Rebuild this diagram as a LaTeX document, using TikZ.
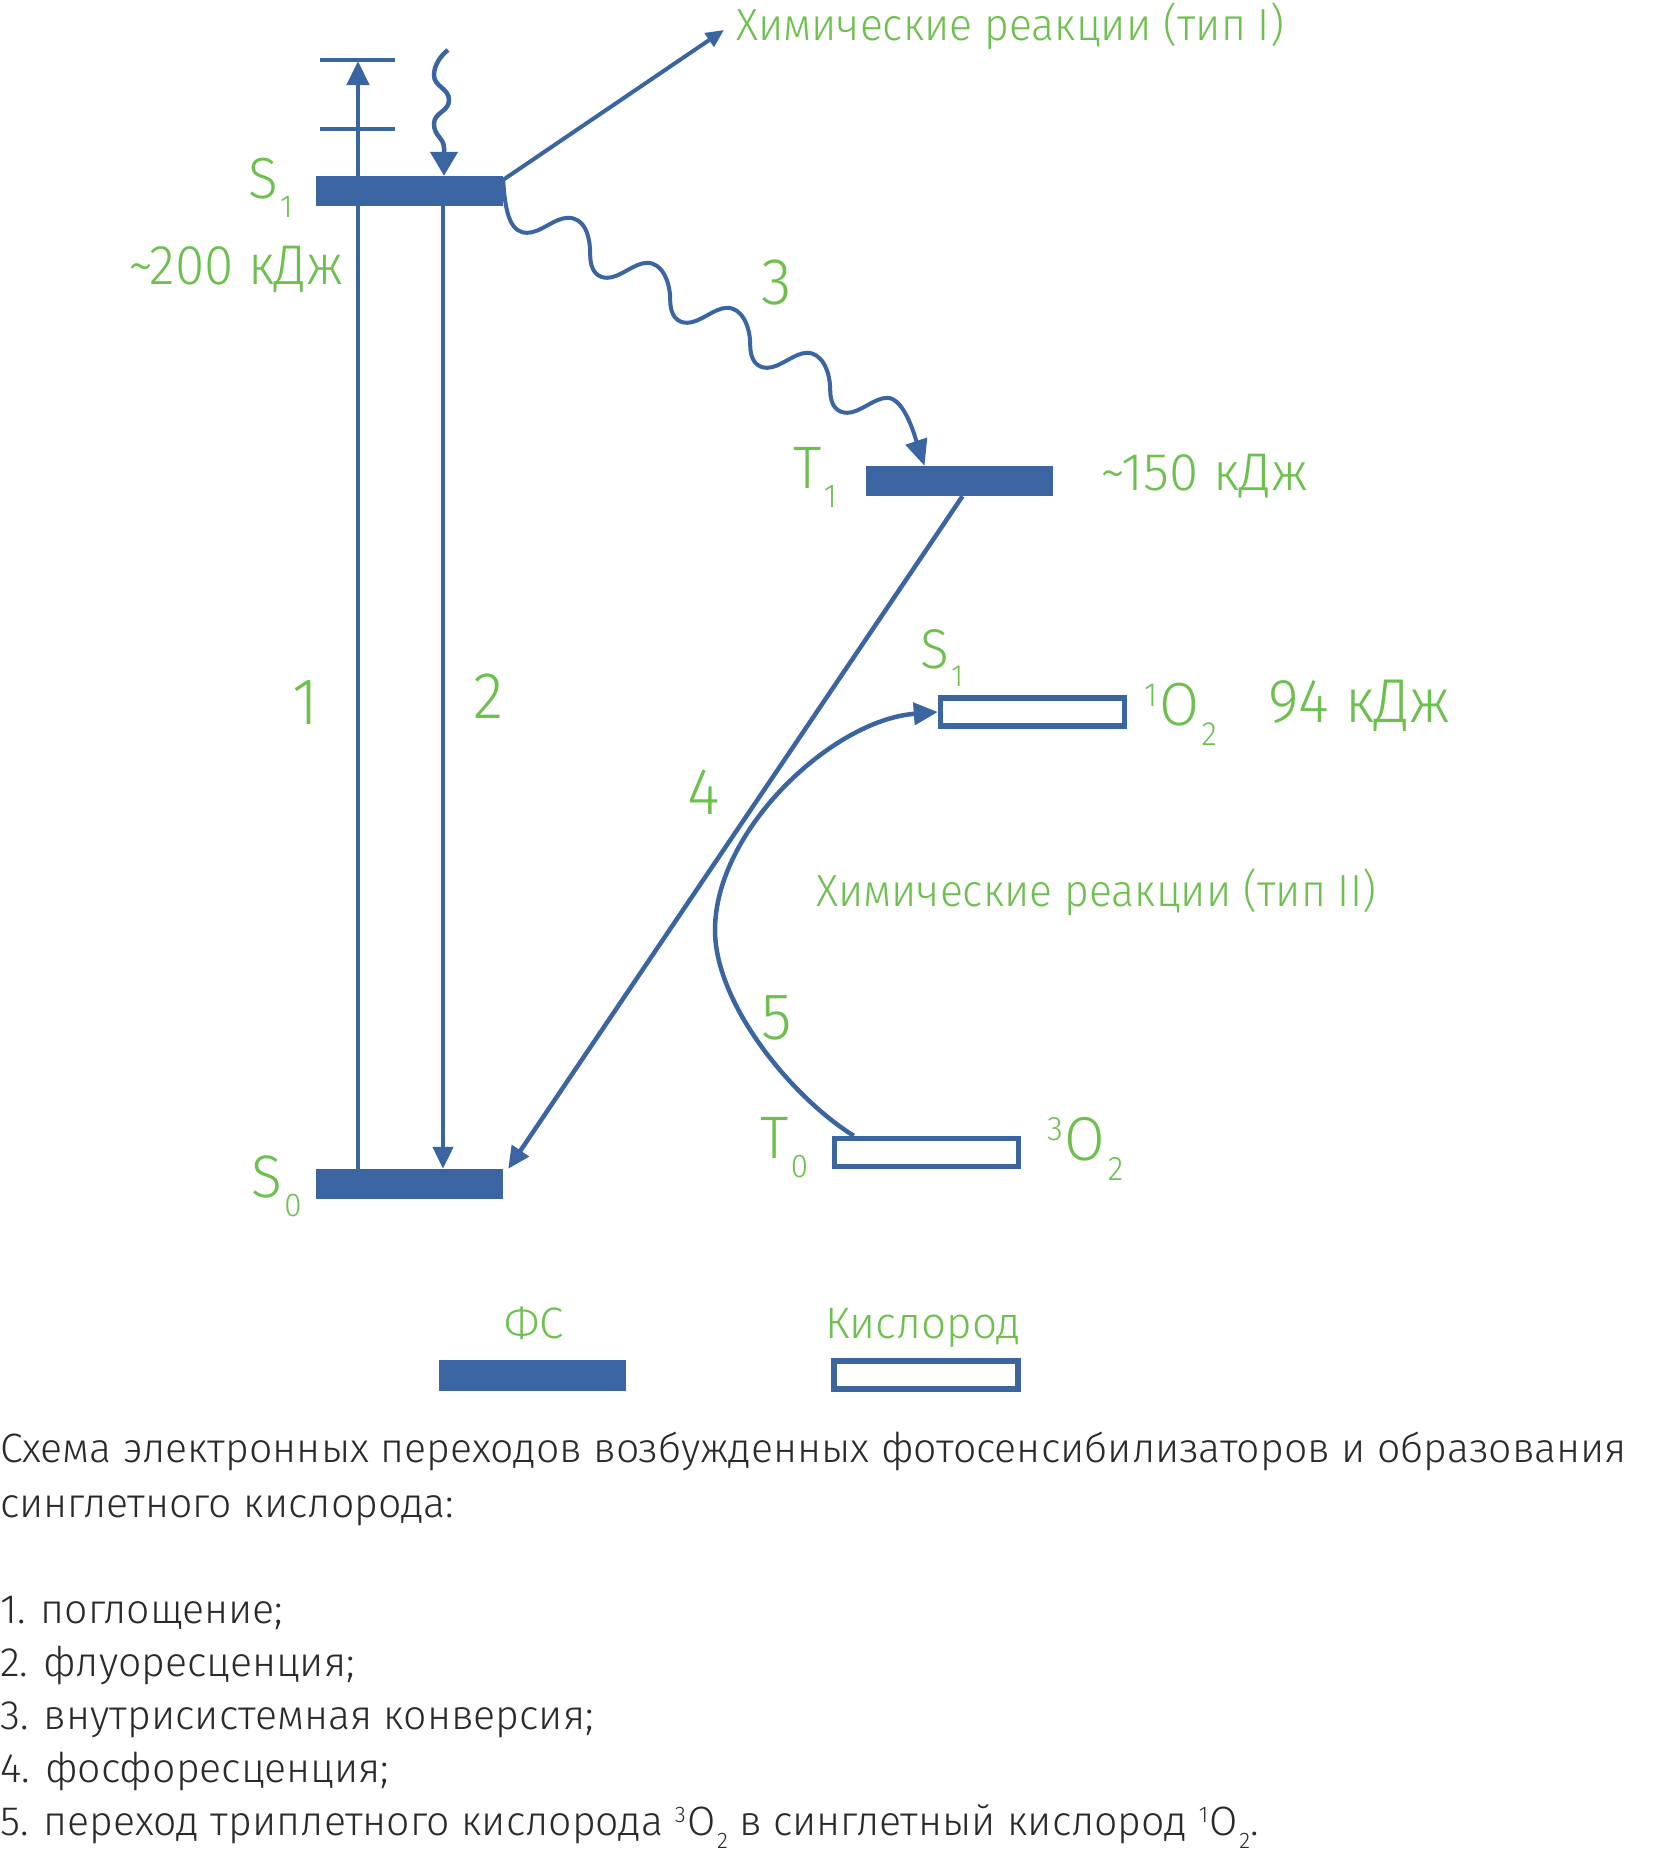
\documentclass[tikz,border=0pt]{standalone}
\usepackage{fontspec}
\setmainfont{Fira Sans Light}
\newfontfamily\lf{Fira Sans Light}[FakeStretch=0.95]
\usetikzlibrary{arrows.meta,decorations.pathmorphing}
\definecolor{fsblue}{HTML}{3A65A0}
\definecolor{lgreen}{HTML}{6DC04E}
\definecolor{captxt}{HTML}{2A2A2A}
\newcommand\fsz[1]{\fontsize{#1}{#1}\selectfont}
\newcommand\lsub[1]{\kern0.04em\raisebox{-0.33em}{\scalebox{0.55}{#1}}}
\newcommand\usup[1]{\raisebox{0.31em}{\scalebox{0.55}{#1}}\kern0.03em}
\begin{document}
\begin{tikzpicture}[x=1pt,y=-1pt,
  fsbar/.style={rectangle, fill=fsblue, minimum width=187pt, minimum height=30pt, inner sep=0pt},
  oxbox/.style={rectangle, draw=fsblue, line width=5.5pt, fill=white, minimum width=184pt, minimum height=28pt, inner sep=0pt},
  conn/.style={draw=fsblue, line width=4.5pt},
  wave/.style={draw=fsblue, line width=4.5pt},
  bigtip/.style={-{Triangle[length=24pt,width=22pt]}},
  midtip/.style={-{Triangle[length=22pt,width=20pt]}},
  lab/.style={text=lgreen, inner sep=0pt, anchor=base west},
  num/.style={text=lgreen, inner sep=0pt, anchor=base, font=\lf\fsz{66}},
  captext/.style={text=captxt, inner sep=0pt, anchor=base west, font=\fsz{41}},
]
\path[use as bounding box, fill=white] (0,0) rectangle (1680,1855);

% levels
\node[fsbar] (s1bar) at (409.5,191) {};
\node[fsbar] (s0bar) at (409.5,1184) {};
\node[fsbar] (t1bar) at (959.5,481) {};

% 1: absorption
\coordinate (top1) at (358,61);
\draw[conn] (320,60) -- (395,60);
\draw[conn] (320,129) -- (395,129);
\draw[conn, bigtip] (s0bar.north -| top1) -- (top1);

% 2: fluorescence
\coordinate (l2) at (443,0);
\draw[conn, midtip] (s1bar.south -| l2) -- (s0bar.north -| l2);

% incoming light
\coordinate (lightsrc) at (448,50);
\coordinate (lightarr) at (444,0);
\draw[wave, -{Triangle[length=24pt,width=27pt]}] (lightsrc)
  .. controls +(-8,6) and +(0,-9) .. (434,75)
  .. controls +(0,12) and +(0,-12) .. (449,100)
  .. controls +(0,12) and +(0,-12) .. (434,124)
  .. controls +(0,12) and +(0,-10) .. (444,148)
  -- (s1bar.north -| lightarr);

% type I
\coordinate (c1end) at (724,30);
\draw[conn, line width=4pt, -{Triangle[length=18pt,width=16pt]}] ([yshift=-4pt]s1bar.north east) -- (c1end);

% 3: intersystem crossing
\draw[wave, line width=4pt, -{Triangle[length=26pt,width=22pt]}] ([yshift=-4pt]s1bar.north east)
  .. controls +(2,38) and +(-15,0) .. ++(24,53)
  .. controls +(14,0) and +(-14,0) .. ++(41,-15)
  .. controls +(16,0) and +(0,-20) .. ++(22,37)
  .. controls +(0,16) and +(-10,0) .. ++(17,23)
  .. controls +(13,0) and +(-13,0) .. ++(40,-15)
  .. controls +(15,0) and +(0,-18) .. ++(23,37)
  .. controls +(0,16) and +(-10,0) .. ++(17,23)
  .. controls +(13,0) and +(-13,0) .. ++(40,-15)
  .. controls +(15,0) and +(0,-18) .. ++(23,37)
  .. controls +(0,16) and +(-10,0) .. ++(17,23)
  .. controls +(13,0) and +(-13,0) .. ++(40,-15)
  .. controls +(15,0) and +(0,-18) .. ++(23,37)
  .. controls +(0,16) and +(-10,0) .. ++(17,23)
  .. controls +(13,0) and +(-13,0) .. ++(40,-15)
  .. controls +(18,0) and +(-8,-24) .. ([xshift=-35pt]t1bar.north);

% 4: phosphorescence
\draw[conn, midtip] ([xshift=3pt]t1bar.south) -- ([xshift=5pt]s0bar.north east);

% oxygen
\coordinate (left5) at (715,930);
\node[oxbox] (o1box) at (1032.5,712) {};
\node[oxbox] (t0box) at (926.5,1152.5) {};
\draw[conn, -{Triangle[length=24pt,width=22pt]}] ([xshift=22pt]t0box.north west)
  .. controls +(-60,-37) and +(0,75) .. (left5)
  .. controls +(0,-100) and +(-105,8) .. (o1box.west);

% labels
\node[lab, font=\lf\fsz{45}] (chemI) at (736,40) {Химические реакции (тип I)};
\node[lab, font=\lf\fsz{45}] (chemII) at (816,906) {Химические реакции (тип II)};
\node[lab, font=\lf\fsz{58}] (s1lab) at (248,198) {S\lsub{1}};
\node[lab, font=\lf\fsz{60}] (s0lab) at (251,1197) {S\lsub{0}};
\node[lab, font=\lf\fsz{60}] (t1lab) at (793,488) {T\lsub{1}};
\node[lab, font=\lf\fsz{60}] (t0lab) at (760,1158) {T\lsub{0}};
\node[lab, font=\lf\fsz{56}] (oxs1lab) at (920,668) {S\lsub{1}};
\node[lab, font=\lf\fsz{56}] (e200) at (128,284) {\textasciitilde200 кДж};
\node[lab, font=\fsz{53}] (e150) at (1100,490) {\textasciitilde150 кДж};
\node[lab, font=\lf\fsz{62}] (e94) at (1268,722) {94 кДж};
\node[lab, font=\lf\fsz{61}] (o1lab) at (1144,725) {\usup{1}O\lsub{2}};
\node[lab, font=\lf\fsz{62}] (o3lab) at (1047,1160) {\usup{3}O\lsub{2}};
\node[num] (n1) at (305,724) {1};
\node[num] (n2) at (489,718) {2};
\node[num] (n3) at (777,304) {3};
\node[num] (n4) at (704,814) {4};
\node[num] (n5) at (777,1039) {5};

% legend
\node[fsbar, minimum height=31pt] (legfs) at (532.5,1375) {};
\node[oxbox] (legox) at (926,1375) {};
\node[text=lgreen, anchor=base, inner sep=0pt, font=\fsz{44}] (legfslab) at (534,1338) {ФС};
\node[text=lgreen, anchor=base, inner sep=0pt, font=\fsz{44}] (legoxlab) at (923,1338) {Кислород};

% caption
\node[captext] (cap1) at (0,1462) {Схема электронных переходов возбужденных фотосенсибилизаторов и образования};
\node[captext] (cap2) at (0,1517) {синглетного кислорода:};
\node[captext] (cap3) at (0,1623) {1. поглощение;};
\node[captext] (cap4) at (0,1676) {2. флуоресценция;};
\node[captext] (cap5) at (0,1729) {3. внутрисистемная конверсия;};
\node[captext] (cap6) at (0,1782) {4. фосфоресценция;};
\node[captext] (cap7) at (0,1835) {5. переход триплетного кислорода \usup{3}O\lsub{2} в синглетный кислород \usup{1}O\lsub{2}.};
\end{tikzpicture}
\end{document}
